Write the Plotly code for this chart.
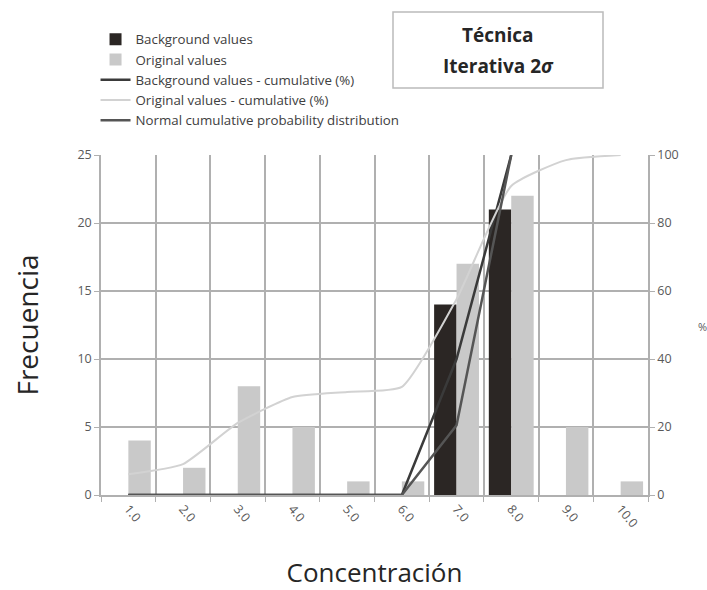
import plotly.graph_objects as go

categories = ["1.0", "2.0", "3.0", "4.0", "5.0", "6.0", "7.0", "8.0", "9.0", "10.0"]
background_counts = [0, 0, 0, 0, 0, 0, 14, 21, 0, 0]
original_counts = [4, 2, 8, 5, 1, 1, 17, 22, 5, 1]
background_cum = [0, 0, 0, 0, 0, 0, 40, 100, None, None]
original_cum = [6.1, 9.1, 21.2, 28.8, 30.3, 31.8, 57.6, 90.9, 98.5, 100]
normal_cum = [0, 0, 0, 0, 0, 0, 20.5, 100, None, None]

TXT = "#595959"
GRID = "#b0b0b0"

L, R, T, B = 101, 59, 155, 95
PW, PH = 707 - L - R, 590 - T - B


def px(xp):
    return (xp - L) / PW


def py(yp):
    return (590 - B - yp) / PH


fig = go.Figure()
fig.add_trace(go.Bar(x=categories, y=background_counts, name="Background values",
                     marker=dict(color="#2b2624", line=dict(width=0))))
fig.add_trace(go.Bar(x=categories, y=original_counts, name="Original values",
                     marker=dict(color="#c9c9c9", line=dict(width=0))))
fig.add_trace(go.Scatter(x=categories, y=background_cum, name="Background values - cumulative (%)",
                         mode="lines", line=dict(color="#3a3a3a", width=2.5), yaxis="y2"))
fig.add_trace(go.Scatter(x=categories, y=original_cum, name="Original values - cumulative (%)",
                         mode="lines", line=dict(color="#d2d2d2", width=2, shape="spline", smoothing=0.5),
                         yaxis="y2"))
fig.add_trace(go.Scatter(x=categories, y=normal_cum, name="Normal cumulative probability distribution",
                         mode="lines", line=dict(color="#555555", width=2.5), yaxis="y2"))

fig.update_layout(
    width=707, height=590,
    margin=dict(l=L, r=R, t=T, b=B),
    paper_bgcolor="white", plot_bgcolor="white",
    barmode="group", bargap=0.18, bargroupgap=0,
    font=dict(family="Open Sans", color=TXT),
    showlegend=True,
    legend=dict(x=-0.01, y=py(24), xanchor="left", yanchor="top",
                font=dict(size=13.3, color="#404040", family="Open Sans"),
                bgcolor="rgba(0,0,0,0)", itemwidth=30, traceorder="normal",
                tracegroupgap=0),
    xaxis=dict(type="category", tickson="boundaries", ticks="outside", ticklen=5,
               tickcolor=GRID, showgrid=True, gridcolor=GRID, gridwidth=1.5,
               showline=True, linecolor=GRID, linewidth=1.5, automargin=False,
               tickangle=50, tickfont=dict(size=12.5, color=TXT),
               title=dict(text="Concentración", font=dict(size=26, color="#262626"), standoff=42)),
    yaxis=dict(range=[0, 25], dtick=5, ticks="outside", ticklen=5, tickcolor=GRID,
               showgrid=True, gridcolor=GRID, gridwidth=1.5, automargin=False,
               showline=True, linecolor=GRID, linewidth=1.5, zeroline=False,
               tickfont=dict(size=12.5, color=TXT),
               title=dict(text="Frecuencia", font=dict(size=28, color="#262626"), standoff=31)),
    yaxis2=dict(range=[0, 100], dtick=20, overlaying="y", side="right",
                ticks="outside", ticklen=5, tickcolor=GRID, showgrid=False,
                showline=True, linecolor=GRID, linewidth=1.5, zeroline=False,
                automargin=False, tickfont=dict(size=12.5, color=TXT)),
)

fig.add_annotation(xref="paper", yref="paper", x=px(702), y=py(326), text="%",
                   xanchor="center", yanchor="middle",
                   showarrow=False, font=dict(size=11, color=TXT))

fig.add_shape(type="rect", xref="paper", yref="paper",
              x0=px(393), x1=px(603), y0=py(88), y1=py(12),
              line=dict(color="#bbbbbb", width=1.5), fillcolor="white", layer="above")
fig.add_annotation(xref="paper", yref="paper", x=px(498), y=py(35), text="<b>Técnica</b>",
                   xanchor="center", yanchor="middle", showarrow=False,
                   font=dict(size=19, color="#262626", family="Open Sans"))
fig.add_annotation(xref="paper", yref="paper", x=px(498), y=py(66), text="<b>Iterativa 2<i>σ</i></b>",
                   xanchor="center", yanchor="middle", showarrow=False,
                   font=dict(size=19, color="#262626", family="Open Sans"))

fig.write_html("out.html")
